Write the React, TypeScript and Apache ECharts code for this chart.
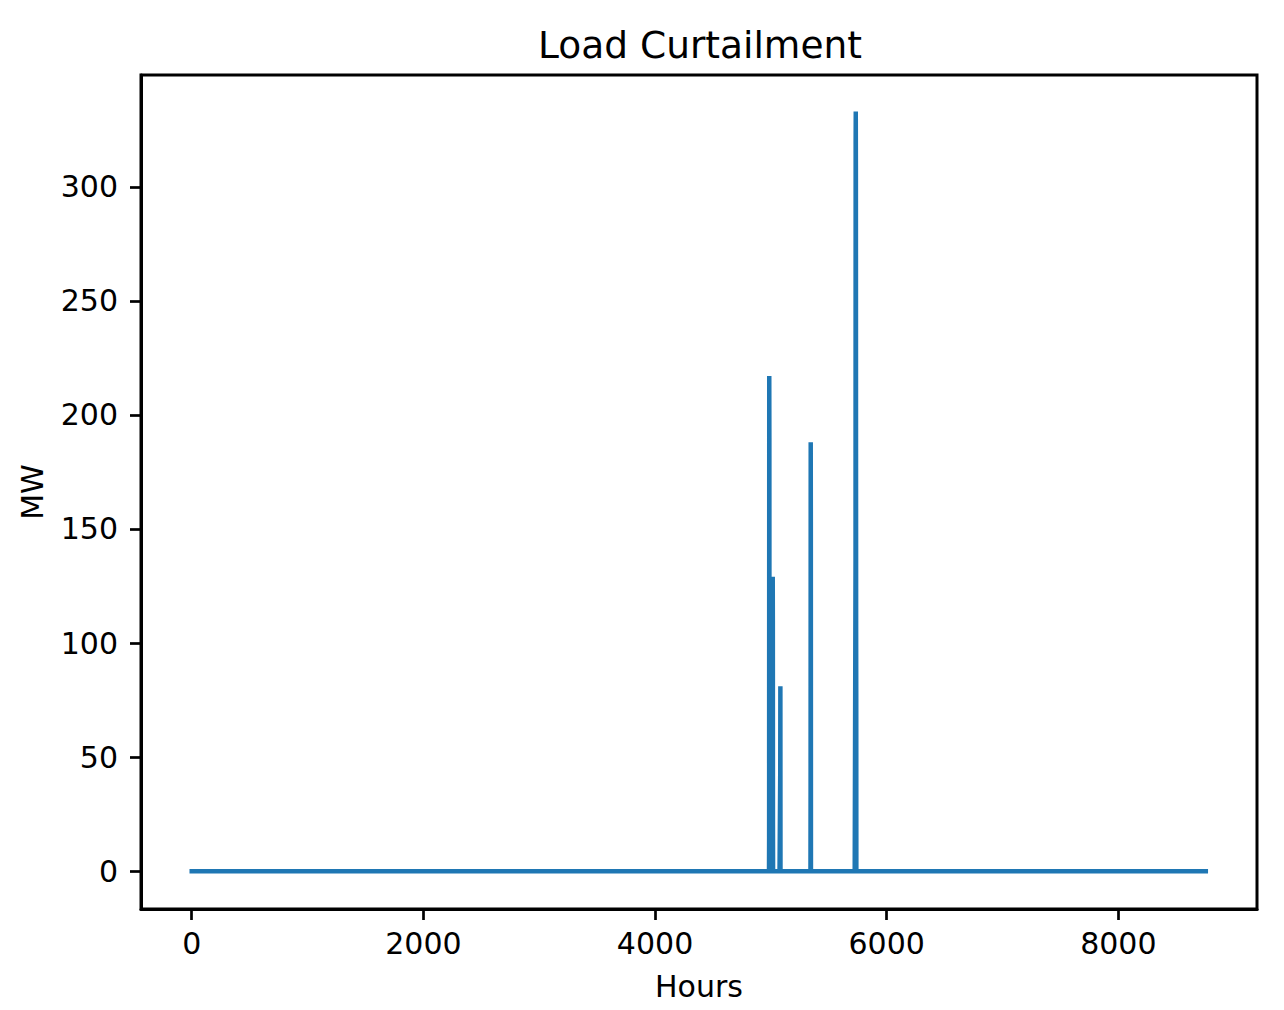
import React, { useEffect, useRef } from "react";
import * as echarts from "echarts";

// Hours in the simulated year (x runs 0..8759)
const HOURS_IN_YEAR = 8760;

// Hours with non-zero load curtailment and their values (MW)
const spikeHours = [
  4985, 4986, 4987, 4988,
  5016, 5017, 5018,
  5081, 5082,
  5343, 5344, 5345,
  5731, 5732, 5733, 5734, 5735, 5736, 5737,
];
const spikeValues = [
  15, 217, 190, 14,
  129, 110, 20,
  44, 81,
  38, 188, 153,
  136, 319, 333, 309, 183, 105, 78,
];

const xTicks = [0, 2000, 4000, 6000, 8000];
const yTicks = [0, 50, 100, 150, 200, 250, 300];

const FONT = "DejaVu Sans";

export default function App() {
  const ref = useRef<HTMLDivElement>(null);

  useEffect(() => {
    document.body.style.margin = "0";
    if (!ref.current) return;
    const chart = echarts.init(ref.current, null, { renderer: "svg" });

    const valueByHour = new Map<number, number>();
    spikeHours.forEach((h, i) => valueByHour.set(h, spikeValues[i]));
    const data: [number, number][] = [];
    for (let h = 0; h < HOURS_IN_YEAR; h++) {
      data.push([h, valueByHour.get(h) ?? 0]);
    }

    chart.setOption({
      animation: false,
      backgroundColor: "#ffffff",
      title: {
        text: "Load Curtailment",
        left: 695,
        top: 21,
        textAlign: "center",
        textStyle: { fontFamily: FONT, fontSize: 37.5, fontWeight: "normal", color: "#000" },
      },
      grid: {
        left: 141,
        right: 27,
        top: 75,
        bottom: 101,
        show: true,
        borderColor: "#000",
        borderWidth: 3,
        backgroundColor: "transparent",
      },
      xAxis: {
        type: "value",
        min: -438,
        max: 9197,
        name: "Hours",
        nameLocation: "middle",
        nameGap: 62,
        nameTextStyle: { fontFamily: FONT, fontSize: 30, color: "#000" },
        axisLine: { show: true, onZero: false, lineStyle: { color: "#000", width: 3 } },
        splitLine: { show: false },
        axisTick: {
          show: true,
          length: 11,
          customValues: xTicks,
          lineStyle: { color: "#000", width: 2.7 },
        },
        axisLabel: {
          customValues: xTicks,
          formatter: (v: number) => String(v),
          margin: 19,
          fontFamily: FONT,
          fontSize: 30,
          color: "#000",
        },
      },
      yAxis: {
        type: "value",
        min: -16.6,
        max: 349,
        name: "MW",
        nameLocation: "middle",
        nameRotate: 90,
        nameGap: 94,
        nameTextStyle: { fontFamily: FONT, fontSize: 30, color: "#000" },
        axisLine: { show: true, onZero: false, lineStyle: { color: "#000", width: 3 } },
        splitLine: { show: false },
        axisTick: {
          show: true,
          length: 11,
          customValues: yTicks,
          lineStyle: { color: "#000", width: 2.7 },
        },
        axisLabel: {
          customValues: yTicks,
          formatter: (v: number) => String(v),
          margin: 23,
          fontFamily: FONT,
          fontSize: 30,
          color: "#000",
        },
      },
      series: [
        {
          type: "line",
          data,
          showSymbol: false,
          symbol: "none",
          lineStyle: { color: "#1f77b4", width: 4.5, cap: "square", join: "miter" },
          itemStyle: { color: "#1f77b4" },
        },
      ],
    });

    return () => chart.dispose();
  }, []);

  return <div ref={ref} style={{ width: 1284, height: 1010 }} />;
}
